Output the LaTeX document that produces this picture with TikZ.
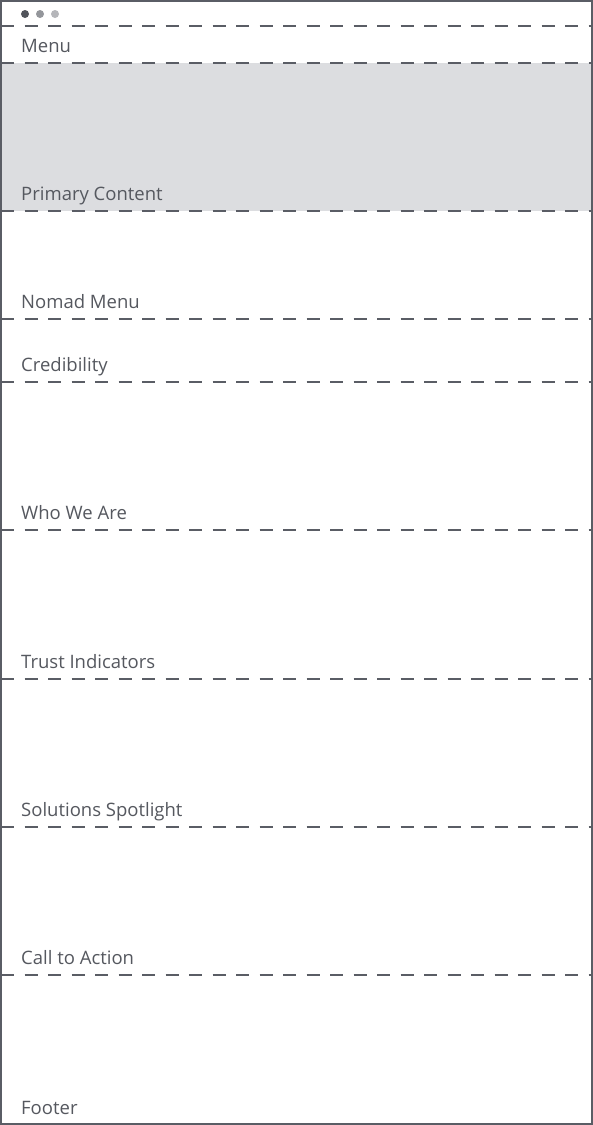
\documentclass[tikz,border=0pt]{standalone}
\usepackage{fontspec}
\setmainfont{Open Sans}
\usepackage{tikz}

\definecolor{wireline}{HTML}{5A5D65}
\definecolor{wiretext}{HTML}{55585F}
\definecolor{wirefill}{HTML}{DCDDE0}

\tikzset{
  section/.style={anchor=base west,inner sep=0pt,text=wiretext,font=\fontsize{18.5}{20}\selectfont},
  divider/.style={wireline,line width=2pt,dash pattern=on 13pt off 10.5pt}
}

\begin{document}
\begin{tikzpicture}[x=1pt,y=-1pt]
\useasboundingbox (0,0) rectangle (593,1125);
\fill[white] (0,0) rectangle (593,1125);
\fill[wirefill] (1,63) rectangle (592,211);
\begin{scope}
 \foreach \h in {26,63,211,319,382,530,679,827,975}
 {
   \draw[divider] (1,\h) -- (592,\h);
 }
\end{scope}
\draw[wireline,line width=2pt] (1,1) rectangle (592,1124);
\fill[wireline!90!black] (25,14) circle (4);
\fill[wireline!65!white] (40,14) circle (4);
\fill[wireline!45!white] (55,14) circle (4);
\node[section] (menu) at (21,52) {Menu};
\node[section] (primary) at (21,200) {Primary Content};
\node[section] (nomad) at (21,308) {Nomad Menu};
\node[section] (cred) at (21,371) {Credibility};
\node[section] (who) at (21,519) {Who We Are};
\node[section] (trust) at (21,668) {Trust Indicators};
\node[section] (solutions) at (21,816) {Solutions Spotlight};
\node[section] (action) at (21,964) {Call to Action};
\node[section] (footer) at (21,1114) {Footer};
\end{tikzpicture}
\end{document}
